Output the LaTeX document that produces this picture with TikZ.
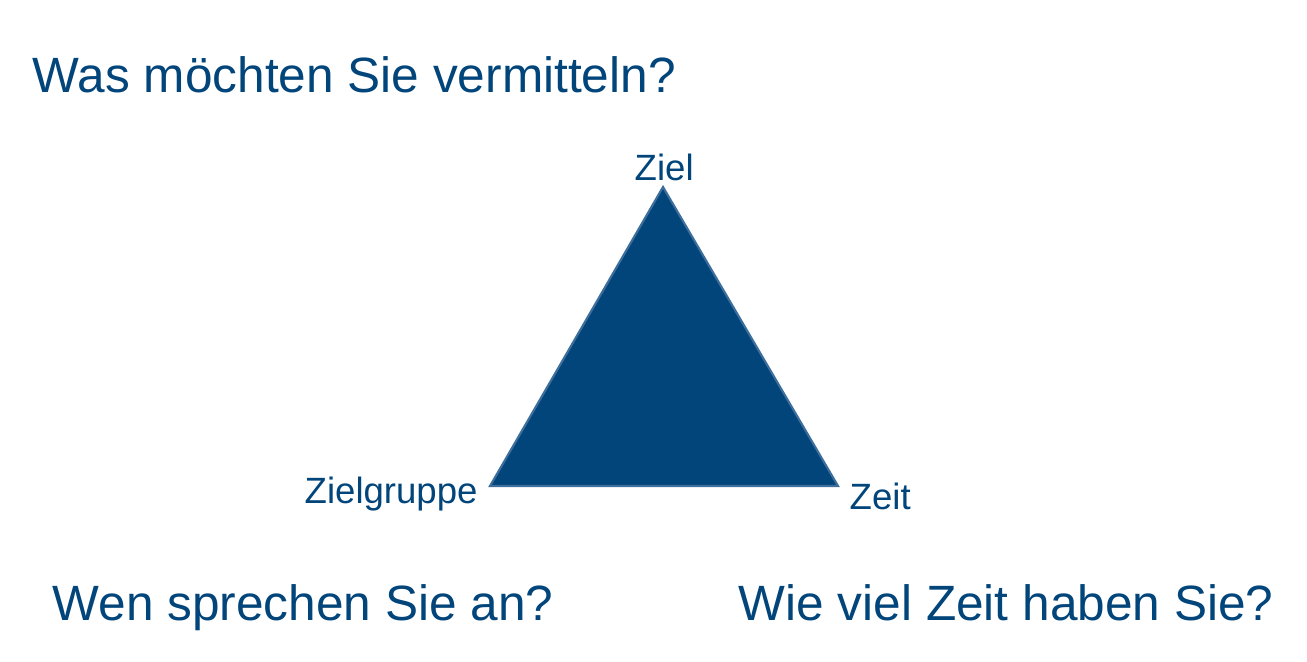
\documentclass[tikz,border=0pt]{standalone}
\usepackage{fontspec}
\setmainfont{Liberation Sans}
\usepackage{xcolor}
\definecolor{zielblau}{HTML}{02457A}
\definecolor{kante}{HTML}{3D6E9C}

\begin{document}
\begin{tikzpicture}[
  x=0.01cm, y=-0.01cm,
  frage/.style={anchor=base west, inner sep=0pt, text=zielblau, font=\fontsize{14.1}{17}\selectfont},
  ecke/.style={anchor=base west, inner sep=0pt, text=zielblau, font=\fontsize{10.4}{12.5}\selectfont}
]
  \useasboundingbox (0,0) rectangle (1307,661);
  % Dreieck
  \coordinate (oben) at (663,187);
  \coordinate (links) at (490,486);
  \coordinate (rechts) at (838,486);
  \draw[fill=zielblau, draw=kante, line width=0.6pt, line join=miter] (oben) -- (rechts) -- (links) -- cycle;
  % Ecken
  \node[ecke] (ziel) at (634,181) {Ziel};
  \node[ecke] (gruppe) at (304,503) {Zielgruppe};
  \node[ecke] (zeit) at (849,509) {Zeit};
  % Fragen
  \node[frage] (was) at (32,93) {Was möchten Sie vermitteln?};
  \node[frage] (wen) at (52,620) {Wen sprechen Sie an?};
  \node[frage] (wie) at (738,620) {Wie viel Zeit haben Sie?};
\end{tikzpicture}
\end{document}
